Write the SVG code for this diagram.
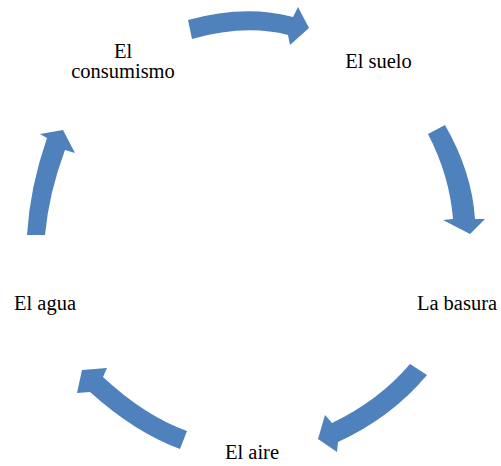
<svg xmlns="http://www.w3.org/2000/svg" width="501" height="466" viewBox="0 0 501 466">
<style>
.arrow{fill:#4F81BD;stroke:none}
.lbl{font-family:"Liberation Serif","Times New Roman",serif;font-size:20.5px;fill:#000;text-anchor:middle}
</style>
<rect width="501" height="466" fill="#fff"/>
<g id="connectors">
<path class="arrow" d="M188,20 Q245,4 293,17 L298,7 L309,28 L290,45 L288,35 Q245,24 192,39 Z"/>
<path class="arrow" d="M445,125 Q472,172 475,219 L485,219 L470,234 L443,220 L453,219 Q449.5,175.5 428,134 Z"/>
<path class="arrow" d="M427,375 Q391.5,417.5 338,442 L337,452 L318,439 L325,415 L332,423 Q379,400.5 410,364 Z"/>
<path class="arrow" d="M180,449 Q135,432.5 90,392 L77,393 L82,370 L107,368 L103,377 Q145,416 187,431 Z"/>
<path class="arrow" d="M27,235 Q30,186.5 47,138 L40,134 L63,130 L75,153 L65,150 Q49,192.5 45,235 Z"/>
</g>
<g id="node-consumismo"><text class="lbl" x="123" y="58">El</text><text class="lbl" x="123" y="78">consumismo</text></g>
<g id="node-suelo"><text class="lbl" x="378.5" y="68">El suelo</text></g>
<g id="node-basura"><text class="lbl" x="457" y="310">La basura</text></g>
<g id="node-aire"><text class="lbl" x="252" y="459">El aire</text></g>
<g id="node-agua"><text class="lbl" x="45" y="310">El agua</text></g>
</svg>
